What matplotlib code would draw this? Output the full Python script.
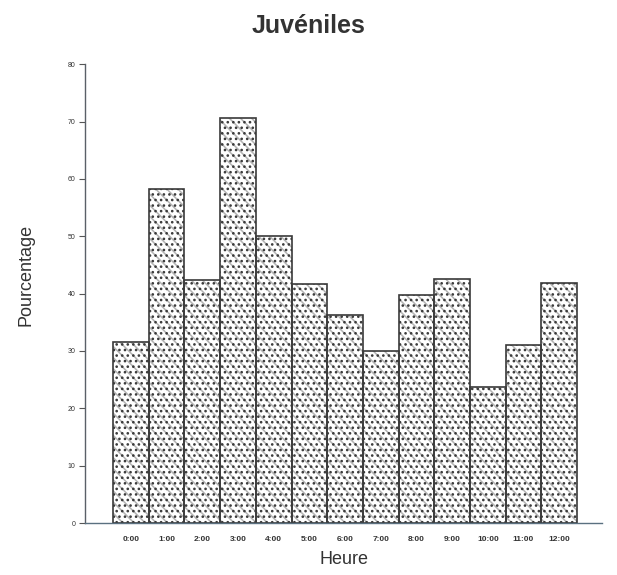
import matplotlib
matplotlib.use('Agg')
import matplotlib.pyplot as plt

# Data
hours = ['0:00', '1:00', '2:00', '3:00', '4:00', '5:00', '6:00',
         '7:00', '8:00', '9:00', '10:00', '11:00', '12:00']
pourcentage = [31.6, 58.2, 42.3, 70.7, 50.1, 41.7, 36.2,
               30.0, 39.8, 42.6, 23.8, 31.1, 41.9]
yticks = [0, 10, 20, 30, 40, 50, 60, 70, 80]

plt.rcParams['font.family'] = ['Liberation Sans', 'DejaVu Sans']
plt.rcParams['hatch.linewidth'] = 1.1

fig = plt.figure(figsize=(6.17, 5.75), dpi=100)
ax = fig.add_axes([0.1378, 0.0904, 0.838, 0.798])

x = list(range(len(hours)))
# faint diagonal texture under the dot screen
ax.bar(x, pourcentage, width=1.0, color='white', edgecolor='#b4b4b4',
       linewidth=0, hatch='\\\\\\')
ax.bar(x, pourcentage, width=1.0, color='none', edgecolor='#3a3a3a',
       linewidth=1.2, hatch='...')

ax.set_xlim(-1.285, 13.2)
ax.set_ylim(0, 80)
ax.set_yticks(yticks)
ax.set_yticklabels([str(v) for v in yticks], fontsize=5, color='#333333')
ax.set_xticks(x)
ax.set_xticklabels(hours, fontsize=6, color='#333333', fontweight='bold')
ax.tick_params(axis='y', length=4, width=0.8, color='#555555', pad=3)
ax.tick_params(axis='x', length=0, pad=9)

for side in ['top', 'right']:
    ax.spines[side].set_visible(False)
ax.spines['left'].set_color('#5a6068')
ax.spines['bottom'].set_color('#5a7080')
ax.spines['left'].set_linewidth(1.0)
ax.spines['bottom'].set_linewidth(1.0)

ax.set_xlabel('Heure', fontsize=13, color='#333333', labelpad=6)
ax.set_ylabel('Pourcentage', fontsize=13, color='#333333')
ax.yaxis.set_label_coords(-0.097, 0.54)
fig.text(0.5, 0.955, 'Juvéniles', ha='center', va='center', fontsize=18,
         fontweight='bold', color='#333333')

fig.savefig('out.png', dpi=100)
